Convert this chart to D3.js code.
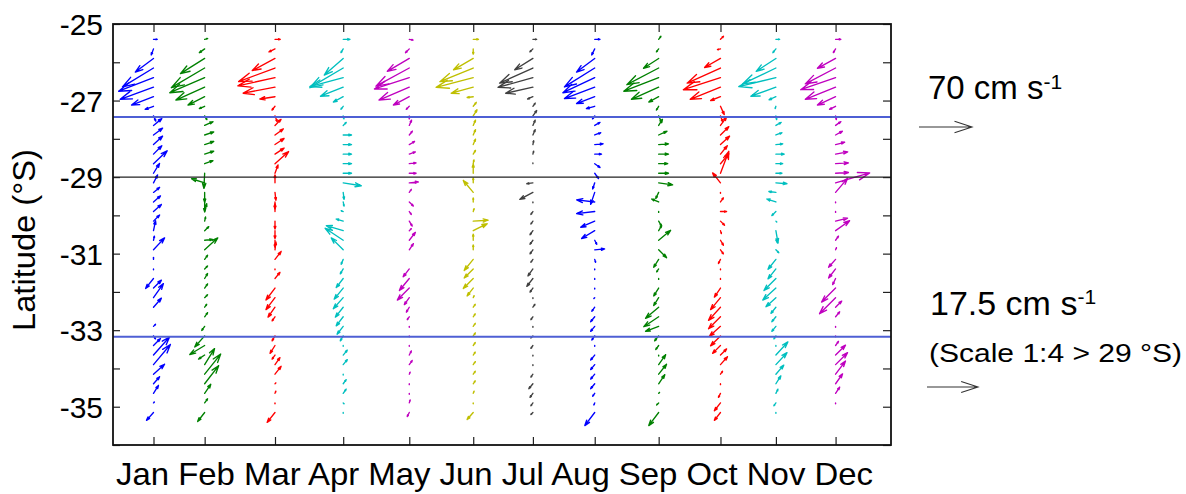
<!DOCTYPE html>
<html><head><meta charset="utf-8">
<script src="https://cdn.jsdelivr.net/npm/d3@7"></script>
<style>body{margin:0;background:#fff}svg{display:block}text{font-family:"Liberation Sans",Arial,sans-serif;fill:#000}</style>
</head><body><svg id="chart" width="1186" height="494"></svg>
<script>
// ---------------- data ----------------
const months = ["Jan","Feb","Mar","Apr","May","Jun","Jul","Aug","Sep","Oct","Nov","Dec"];
const sampleDay = [19, 43, 76, 108, 139, 169, 197, 226, 256, 285, 311, 339]; // day of year of each monthly section
const monthColors = ["#0000ff","#008000","#ff0000","#00bfbf","#bf00bf","#bfbf00","#404040","#0000ff","#008000","#ff0000","#00bfbf","#bf00bf"];
const latitudes = [-25.4,-25.65,-25.9,-26.15,-26.4,-26.65,-26.9,-27.15,-27.4,-27.65,-27.9,-28.15,-28.4,-28.65,-28.9,
  -29.15,-29.4,-29.65,-29.9,-30.15,-30.4,-30.65,-30.9,-31.15,-31.4,-31.65,-31.9,-32.15,-32.4,-32.65,-32.9,
  -33.15,-33.4,-33.65,-33.9,-34.15,-34.4,-34.65,-34.9,-35.15];
const latTicks = [-25,-26,-27,-28,-29,-30,-31,-32,-33,-34,-35,-36];
const latLabels = [-25,-27,-29,-31,-33,-35];
const frontLats = [-27.43, -33.17];
const scaleBreakLat = -29;
const refSpeeds = [70, 17.5]; // cm/s, north / south of 29°S

// eastward (u) and northward (v) velocity, cm/s
const uJan = [5,-3,-24,-41,-46,-44,-29,-11,3,11,12,12,11,18,8, 1.4,2.1,2.4,2.7,2.1,0.7,0.3,3.8,0,0, -2.7,2.7,3.4,2.7,0,0.7,0.7,2.4,5.5,5.8, 3.8,2.1,1.7,0.3,-2.4];
const vJan = [0,-8,-18,-25,-18,-16,-11,-4,-7,9,9,11,11,17,13, 2.7,1.7,2.1,2.4,2.1,3.4,1.4,4.1,0.7,-0.3, -3.4,2.7,4.8,3.1,0,0.7,-1.0,2.4,6.2,6.9, 3.4,2.4,2.7,0.3,-2.7];
const uFeb = [4,-7,-32,-44,-46,-38,-22,-7,3,11,12,12,12,11,-1, -4.5,0,0,0.7,0.3,1.4,2.7,4.5,1.0,1.0, 1.0,1.0,1.0,0.7,1.0,-1.0,-3.4,-5.1,-2.1,3.4, 5.5,4.8,2.1,1.0,-2.4];
const vFeb = [1,-5,-20,-26,-20,-17,-11,-3,-5,5,4,4,4,4,-20, 1.4,-3.4,-3.4,2.7,1.4,1.4,0.3,4.1,1.4,1.0, 1.7,1.4,1.0,1.0,1.4,-1.4,-3.8,-3.1,-1.4,5.5, 6.9,6.2,3.1,1.4,-3.1];
const uMar = [7,-8,-30,-48,-49,-42,-20,-4,3,8,11,12,12,18,4, 0,0.3,0,0,0,0,0,0.3,2.1,0, 1.7,-3.1,-3.1,-2.4,-1.0,0,-1.0,-1.7,-1.0,1.7, 2.1,0.3,0.3,0,-2.7];
const vMar = [0,-4,-16,-18,-11,-8,-3,-5,-8,8,8,8,8,16,11, 2.7,-2.7,-2.4,2.7,-2.7,-2.7,-2.4,2.7,2.7,-0.3, 2.1,-4.1,-4.1,-3.4,-1.4,0,-1.7,-2.7,-1.4,2.4, 2.7,0.3,0.7,-0.3,-3.4];
const uApr = [9,-3,-25,-44,-44,-30,-13,-3,1,4,11,11,11,11,11, 6.2,0.3,0.3,-0.7,-2.4,-5.8,-6.2,-4.1,-0.7,-1.0, -2.4,-3.1,-3.4,-2.7,-2.4,-2.1,-1.0,0,1.4,1.4, 0,1.0,1.0,0.3,0];
const vApr = [0,-5,-22,-26,-12,-12,-7,-4,-4,4,0,0,0,0,0, -1.0,-2.4,-1.4,0.3,0.7,1.7,4.1,4.1,-1.7,-1.7, -3.1,-3.8,-3.8,-3.4,-3.1,-2.7,-1.7,-0.3,1.7,1.7, -0.3,1.4,1.4,-0.3,-0.3];
const uMay = [5,-5,-29,-44,-46,-40,-21,-4,0,3,4,7,8,9,9, 3.1,0.7,1.4,0.7,1.0,0.7,2.1,1.4,0,-2.1, -3.4,-4.1,-1.7,-1.0,-0.7,0,0,0,0.7,1.0, 0.3,0,0,0.3,-0.7];
const vMay = [-1,-5,-17,-24,-15,-17,-11,-4,-4,7,5,4,3,1,0, 0.3,1.0,-1.4,-1.0,-1.7,0.7,2.7,2.1,0,-2.7, -4.1,-4.1,-2.4,-1.7,-1.0,-0.3,-0.3,-0.3,1.4,1.4, 0.7,-0.3,-0.3,1.0,-1.4];
const uJun = [7,0,-26,-44,-49,-29,-8,4,5,3,3,3,3,1,0, 0,-3.4,0,0.3,5.1,4.8,0,0,-3.1,-3.1, -3.4,-2.1,0.3,0.7,0.7,0.7,0.7,0.7,0.7,0.7, 0.7,0.7,0.3,0,-2.1];
const vJun = [0,-7,-15,-18,-13,-8,-1,5,8,7,7,7,5,5,12, 1.7,4.1,1.4,1.0,0.3,2.4,2.1,1.7,-3.8,-3.1, -3.4,-2.7,0.7,1.0,1.0,1.0,1.0,1.0,1.0,1.0, 1.0,1.0,0.7,-0.3,-2.4];
const uJul = [5,-4,-24,-44,-46,-36,-7,3,5,3,3,1,1,0,0, -2.1,-4.5,0,-0.7,-0.7,-1.0,-1.0,-1.0,-0.7,-1.7, -2.1,-1.0,0,0.7,-0.7,0,-0.7,-0.7,0,0, -0.7,-1.4,-1.0,-0.7,-0.7];
const vJul = [0,-4,-15,-20,-13,-8,-3,4,7,7,7,5,4,1,0, -0.3,-2.4,-0.3,-1.0,-1.0,-1.4,-1.4,-1.4,-1.0,-2.4, -2.7,-1.4,-0.3,1.0,-1.0,-0.3,-0.7,-1.0,-0.3,-0.3, -1.0,-1.7,-1.4,-1.0,-0.7];
const uAug = [7,-4,-24,-40,-42,-40,-24,-11,-3,7,8,11,9,7,5, -0.7,-1.4,-6.2,-6.2,-4.8,-4.5,0.7,3.4,0.3,0, 0,0,-0.3,-1.0,-1.4,-1.4,-1.0,0,-1.4,-1.4, -1.4,-1.4,-0.7,-0.3,-3.4];
const vAug = [0,-8,-18,-25,-20,-15,-9,-3,-4,4,3,1,0,-5,-7, -2.1,-4.1,0.7,-0.7,-2.1,-2.7,-1.4,0.3,-1.0,-0.3, -0.3,-0.3,-0.3,-1.4,-1.7,-1.7,-1.4,-0.3,-1.7,-1.7, -1.7,-1.7,-1.0,-0.7,-4.5];
const uSep = [3,-3,-20,-42,-46,-36,-13,-3,4,5,11,13,13,12,13, 4.8,-1.0,-2.4,0,1.0,1.0,4.1,2.7,-1.7,-0.7, 0,-1.7,-1.7,-4.5,-5.1,-4.5,-1.4,-1.0,0,2.4, 2.7,2.1,0.3,-0.7,-3.4];
const vSep = [4,-4,-13,-22,-18,-16,-7,-5,-9,8,5,1,0,0,0, -0.7,-2.1,1.0,-0.3,-1.7,1.7,3.4,-2.7,-2.7,-1.0, -0.3,-2.7,-2.7,-3.8,-3.4,-1.7,-1.7,-1.4,-0.3,3.4, 3.4,3.1,0.3,-0.7,-4.5];
const uOct = [4,-4,-21,-44,-49,-40,-13,5,3,8,11,12,9,11,11, -2.7,0,1.0,2.1,1.4,0.3,1.0,1.0,-0.7,0, 0,-2.1,-3.4,-4.1,-4.1,-3.8,-3.4,-2.7,2.1,2.4, 0.7,0,-0.7,-2.1,-2.1];
const vOct = [4,-1,-12,-20,-16,-16,-5,-11,-8,11,11,11,11,13,29, 3.4,-0.3,1.4,0,-1.4,-1.0,-1.7,-1.4,-1.4,-0.3, -0.3,-3.1,-4.1,-4.5,-4.1,-3.4,-3.4,-2.7,2.1,2.7, 1.0,-0.3,-1.4,-2.7,-2.7];
const uNov = [5,-4,-26,-44,-49,-33,-9,-1,1,7,8,9,11,9,8, 3.8,-2.4,-3.1,-1.4,0.3,0.7,0.7,1.0,-2.7,-2.7, -4.1,-4.5,-3.4,-1.7,-1.4,-1.4,-0.7,0,4.1,3.8, 2.7,1.7,0.7,-0.7,0];
const vNov = [0,-5,-17,-21,-12,-12,-4,-3,-5,4,3,1,0,0,0, -0.3,0.3,1.0,-1.4,-0.3,-4.1,-1.0,-1.0,-3.4,-3.4, -4.1,-4.1,-3.1,-2.1,-1.7,-1.7,-1.0,-0.3,4.5,4.1, 3.1,2.7,1.4,-1.0,-0.3];
const uDec = [7,-3,-24,-40,-46,-40,-24,-8,1,7,9,12,16,17,17, 11.7,4.1,0,0,4.1,4.8,1.0,0.3,-2.4,-2.4, -1.0,-4.8,-5.5,2.1,1.4,0,0,1.0,3.4,4.1, 3.4,2.4,1.4,0,0];
const vDec = [0,-5,-13,-21,-16,-16,-11,-4,-5,5,5,3,3,1,1, 3.4,4.8,-0.3,-0.3,1.0,3.4,1.4,0.7,-2.7,-3.1, -2.1,-4.8,-5.5,2.1,1.7,-0.3,-0.3,1.4,3.4,4.1, 4.5,3.4,2.1,-0.3,0];

const uByMonth = [uJan,uFeb,uMar,uApr,uMay,uJun,uJul,uAug,uSep,uOct,uNov,uDec];
const vByMonth = [vJan,vFeb,vMar,vApr,vMay,vJun,vJul,vAug,vSep,vOct,vNov,vDec];

// ---------------- drawing ----------------
const W = 1186, H = 494;
const plot = {left: 113, right: 891, top: 24, bottom: 445};
const svg = d3.select('#chart');
svg.append('rect').attr('width', W).attr('height', H).attr('fill', '#fff');

const x = d3.scaleLinear().domain([0, 365]).range([plot.left, plot.right]);
const y = d3.scaleLinear().domain([-25, -36]).range([plot.top, plot.bottom]);
const lenNorth = d3.scaleLinear().domain([0, refSpeeds[0]]).range([0, 53]);
const lenSouth = d3.scaleLinear().domain([0, refSpeeds[1]]).range([0, 51]);

function arrowPath(x0, y0, dx, dy) {
  const a = 0.33, b = 0.33;
  const x1 = x0 + dx, y1 = y0 + dy;
  const h1x = x1 - a * (dx + b * dy), h1y = y1 - a * (dy - b * dx);
  const h2x = x1 - a * (dx - b * dy), h2y = y1 - a * (dy + b * dx);
  return `M${x0},${y0}L${x1},${y1}M${h1x},${h1y}L${x1},${y1}L${h2x},${h2y}`;
}

// quiver arrows
const quiver = svg.append('g').attr('fill', 'none').attr('stroke-width', 1.35)
  .attr('stroke-linecap', 'round').attr('stroke-linejoin', 'round');
months.forEach((m, mi) => {
  const g = quiver.append('g').attr('stroke', monthColors[mi]);
  const x0 = x(sampleDay[mi]);
  latitudes.forEach((lat, i) => {
    const sc = lat >= scaleBreakLat ? lenNorth : lenSouth;
    const u = uByMonth[mi][i], v = vByMonth[mi][i];
    const dx = sc(u), dy = -sc(v);
    if (Math.hypot(dx, dy) < 0.4) return;
    g.append('path').attr('d', arrowPath(x0, y(lat), dx, dy));
  });
});

// fronts
svg.append('g').selectAll('line').data(frontLats).join('line')
  .attr('x1', plot.left).attr('x2', plot.right)
  .attr('y1', d => y(d)).attr('y2', d => y(d))
  .attr('stroke', '#4e5fd4').attr('stroke-width', 2);
svg.append('line').attr('x1', plot.left).attr('x2', plot.right)
  .attr('y1', y(scaleBreakLat)).attr('y2', y(scaleBreakLat))
  .attr('stroke', '#222').attr('stroke-width', 1.1);

// axes
const fontAxis = 30;
const gl = svg.append('g').attr('transform', `translate(${plot.left},0)`)
  .call(d3.axisLeft(y).tickValues(latTicks).tickSize(-7).tickPadding(10)
    .tickFormat(d => latLabels.includes(d) ? String(d) : ''));
gl.selectAll('text').attr('font-size', fontAxis).attr('dy', '0.36em')
  .attr('font-family', '"Liberation Sans",Arial,sans-serif').attr('fill', '#000');
const gr = svg.append('g').attr('transform', `translate(${plot.right},0)`)
  .call(d3.axisRight(y).tickValues(latTicks).tickSize(-8).tickFormat(''));
const gt = svg.append('g').attr('transform', `translate(0,${plot.top})`)
  .call(d3.axisTop(x).tickValues(sampleDay).tickSize(-8).tickFormat(''));
const gb = svg.append('g').attr('transform', `translate(0,${plot.bottom})`)
  .call(d3.axisBottom(x).tickValues(sampleDay).tickSize(-8).tickFormat(''));
[gl, gr, gt, gb].forEach(g => {
  g.select('.domain').remove();
  g.selectAll('.tick line').attr('stroke', '#222').attr('stroke-width', 1.2);
});

// box
svg.append('rect').attr('x', plot.left).attr('y', plot.top)
  .attr('width', plot.right - plot.left).attr('height', plot.bottom - plot.top)
  .attr('fill', 'none').attr('stroke', '#111').attr('stroke-width', 1.8);

// month labels (set as one line under the axis)
svg.append('text').attr('x', 116).attr('y', 485).attr('font-size', 32)
  .attr('textLength', 757).attr('lengthAdjust', 'spacingAndGlyphs')
  .text(months.join(' '));

// y title
svg.append('text').attr('transform', 'translate(35,240) rotate(-90)')
  .attr('text-anchor', 'middle').attr('font-size', 31)
  .attr('textLength', 182).attr('lengthAdjust', 'spacingAndGlyphs')
  .text('Latitude (°S)');

// legend
const t1 = svg.append('text').attr('x', 928).attr('y', 99).attr('font-size', 33);
t1.append('tspan').text(`${refSpeeds[0]} cm s`);
t1.append('tspan').attr('font-size', 21).attr('dy', -10).text('-1');
svg.append('path').attr('d', arrowPath(919, 127, lenNorth(refSpeeds[0]), 0))
  .attr('fill', 'none').attr('stroke', '#333').attr('stroke-width', 1.1);

const t2 = svg.append('text').attr('x', 930).attr('y', 315).attr('font-size', 34);
t2.append('tspan').text(`${refSpeeds[1]} cm s`);
t2.append('tspan').attr('font-size', 21).attr('dy', -11).text('-1');
svg.append('text').attr('x', 929).attr('y', 362).attr('font-size', 26)
  .attr('textLength', 253).attr('lengthAdjust', 'spacingAndGlyphs')
  .text('(Scale 1:4 > 29 °S)');
svg.append('path').attr('d', arrowPath(927, 387, lenSouth(refSpeeds[1]), 0))
  .attr('fill', 'none').attr('stroke', '#333').attr('stroke-width', 1.1);
</script></body></html>
